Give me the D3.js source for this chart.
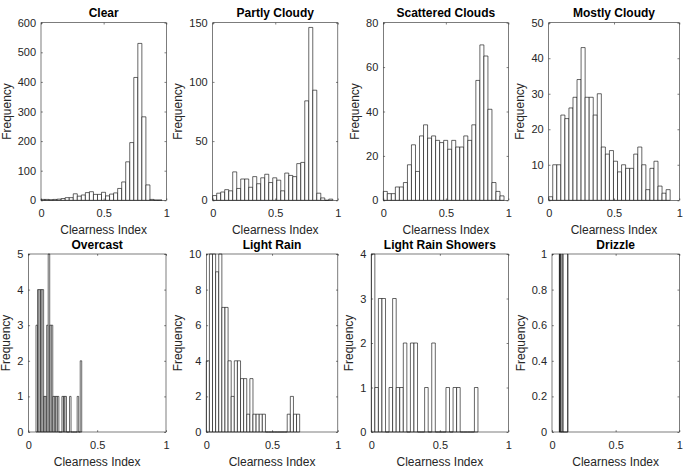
<!DOCTYPE html>
<html>
<head>
<meta charset="utf-8">
<script src="https://cdn.jsdelivr.net/npm/d3@7/dist/d3.min.js"></script>
<style>
  body { margin: 0; background: #fff; }
  text { font-family: "Liberation Sans", Arial, Helvetica, sans-serif; }
</style>
</head>
<body>
<div id="chart"></div>
<script>
// panel titles, in subplot order
const titles = ["Clear", "Partly Cloudy", "Scattered Clouds", "Mostly Cloudy",
                "Overcast", "Light Rain", "Light Rain Showers", "Drizzle"];

// 30 bin counts per weather type
const clearCounts = [3, 3, 2, 3, 4, 6, 9, 9, 22, 14, 18, 26, 29, 20, 20, 27, 15, 21, 25, 40,
                     62, 130, 195, 415, 530, 282, 52, 3, 1, 1];
const partlyCounts = [4, 6, 7, 9, 8, 24, 10, 18, 18, 11, 20, 14, 19, 22, 15, 19, 17, 8, 23, 21,
                      20, 31, 32, 84, 146, 93, 6, 2, 0, 1];
const scatteredCounts = [4, 3, 3, 6, 6, 8, 16, 25, 13, 29, 34, 28, 29, 27, 26, 27, 23, 27, 24, 24,
                         29, 27, 34, 54, 70, 65, 41, 8, 4, 2];
const mostlyCounts = [1, 10, 10, 24, 23, 26, 29, 34, 43, 29, 29, 24, 30, 15, 13, 14, 11, 8, 10, 9,
                      9, 13, 15, 10, 3, 9, 11, 4, 2, 3];
const overcastCounts = [3, 4, 4, 4, 4, 1, 1, 3, 5, 3, 3, 1, 1, 1, 1, 0, 0, 1, 1, 1,
                        0, 0, 1, 0, 0, 0, 0, 1, 0, 2];
const lightRainCounts = [4, 10, 10, 9, 10, 7, 7, 4, 2, 4, 4, 3, 3, 1, 3, 1, 1, 1, 1, 0,
                         0, 0, 0, 0, 0, 0, 1, 2, 1, 1];
const showersCounts = [4, 1, 3, 3, 0, 1, 3, 1, 1, 2, 0, 2, 2, 0, 0, 1, 0, 2, 0, 0,
                       0, 1, 0, 1, 1, 0, 0, 0, 0, 1];
const drizzleCounts = [1, 0, 1, 0, 0, 1, 0, 0, 0, 0, 0, 0, 1, 0, 0, 0, 0, 0, 0, 0,
                       0, 0, 0, 0, 0, 0, 0, 0, 0, 1];

const allCounts = [clearCounts, partlyCounts, scatteredCounts, mostlyCounts,
                   overcastCounts, lightRainCounts, showersCounts, drizzleCounts];

// clearness index range covered by the bins (min..max of each sample)
const binLow = [0, 0, 0, 0, 0.056, 0, 0, 0.0575];
const binHigh = [0.966, 0.96, 0.965, 0.93, 0.388, 0.71, 0.778, 0.125];

// y axis limits and tick steps
const yMax = [600, 150, 80, 50, 5, 10, 4, 1];
const yStep = [100, 50, 20, 10, 1, 2, 1, 0.2];
const xTicks = [0, 0.5, 1];

// axes boxes (pixels) - matlab subplot layout
const lefts = [41, 212.7, 383.3, 548.7, 28.3, 206.3, 371.3, 552];
const rights = [166.3, 337.8, 508.4, 679.3, 166, 337.8, 508.4, 679.3];
const tops = [22.7, 254];
const bottoms = [200.3, 432];

const W = 687, H = 468;
const ink = "#262626";
const tickLen = 1.8;

let svg = d3.select("#chart").append("svg")
  .attr("width", W)
  .attr("height", H);

allCounts.forEach((counts, i) => {
  let L = lefts[i], R = rights[i];
  let T = tops[Math.floor(i / 4)], B = bottoms[Math.floor(i / 4)];

  let x = d3.scaleLinear().domain([0, 1]).range([L, R]);
  let y = d3.scaleLinear().domain([0, yMax[i]]).range([B, T]);

  let g = svg.append("g").attr("class", "panel");

  // bins
  let w = (binHigh[i] - binLow[i]) / counts.length;
  let bins = counts.map((c, k) => ({ x0: binLow[i] + k * w, x1: binLow[i] + (k + 1) * w, n: c }));

  g.append("g").selectAll("path")
    .data(bins)
    .enter()
    .append("path")
    .attr("d", d => `M${x(d.x0)},${y(0)}V${y(d.n)}H${x(d.x1)}V${y(0)}Z`)
    .attr("fill", "#fff")
    .attr("stroke", "#000")
    .attr("stroke-width", 0.6);

  // y ticks
  let yt = d3.range(0, yMax[i] + yStep[i] / 2, yStep[i]);
  let fmt = yStep[i] < 1 ? d3.format(".1f") : d3.format("d");

  let ya = g.append("g")
    .attr("transform", `translate(${L},0)`)
    .call(d3.axisLeft(y).tickValues(yt).tickSizeInner(-tickLen).tickSizeOuter(0).tickPadding(5)
      .tickFormat(d => (d === 0 || d === 1) ? String(d) : fmt(d)));
  g.append("g")
    .attr("transform", `translate(${R},0)`)
    .call(d3.axisRight(y).tickValues(yt).tickSizeInner(-tickLen).tickSizeOuter(0).tickFormat(""));

  // x ticks
  let xa = g.append("g")
    .attr("transform", `translate(0,${B})`)
    .call(d3.axisBottom(x).tickValues(xTicks).tickSizeInner(-tickLen).tickSizeOuter(0)
      .tickFormat(d => d === 0.5 ? "0.5" : String(d)));
  g.append("g")
    .attr("transform", `translate(0,${T})`)
    .call(d3.axisTop(x).tickValues(xTicks).tickSizeInner(-tickLen).tickSizeOuter(0).tickFormat(""));

  g.selectAll(".domain").remove();
  g.selectAll(".tick line").attr("stroke", ink).attr("stroke-width", 0.6);
  g.selectAll(".tick text")
    .attr("fill", ink)
    .style("font-family", '"Liberation Sans", Arial, sans-serif')
    .style("font-size", "11px");
  xa.selectAll(".tick text").attr("y", 16.5).attr("dy", null);

  // box
  g.append("rect")
    .attr("x", L).attr("y", T)
    .attr("width", R - L).attr("height", B - T)
    .attr("fill", "none")
    .attr("stroke", ink)
    .attr("stroke-width", 0.6);

  // widest y tick label decides where the ylabel sits
  let maxW = 0;
  ya.selectAll(".tick text").each(function () {
    maxW = Math.max(maxW, this.getComputedTextLength());
  });

  g.append("text")
    .attr("transform", `translate(${L - maxW - 5 - 7},${(T + B) / 2}) rotate(-90)`)
    .attr("text-anchor", "middle")
    .attr("fill", ink)
    .style("font-size", "12px")
    .text("Frequency");

  g.append("text")
    .attr("x", (L + R) / 2)
    .attr("y", B + 33.5)
    .attr("text-anchor", "middle")
    .attr("fill", ink)
    .style("font-size", "12px")
    .text("Clearness Index");

  g.append("text")
    .attr("x", (L + R) / 2)
    .attr("y", T - 5.4)
    .attr("text-anchor", "middle")
    .attr("fill", "#000")
    .style("font-size", "12px")
    .style("font-weight", "bold")
    .text(titles[i]);
});
</script>
</body>
</html>
